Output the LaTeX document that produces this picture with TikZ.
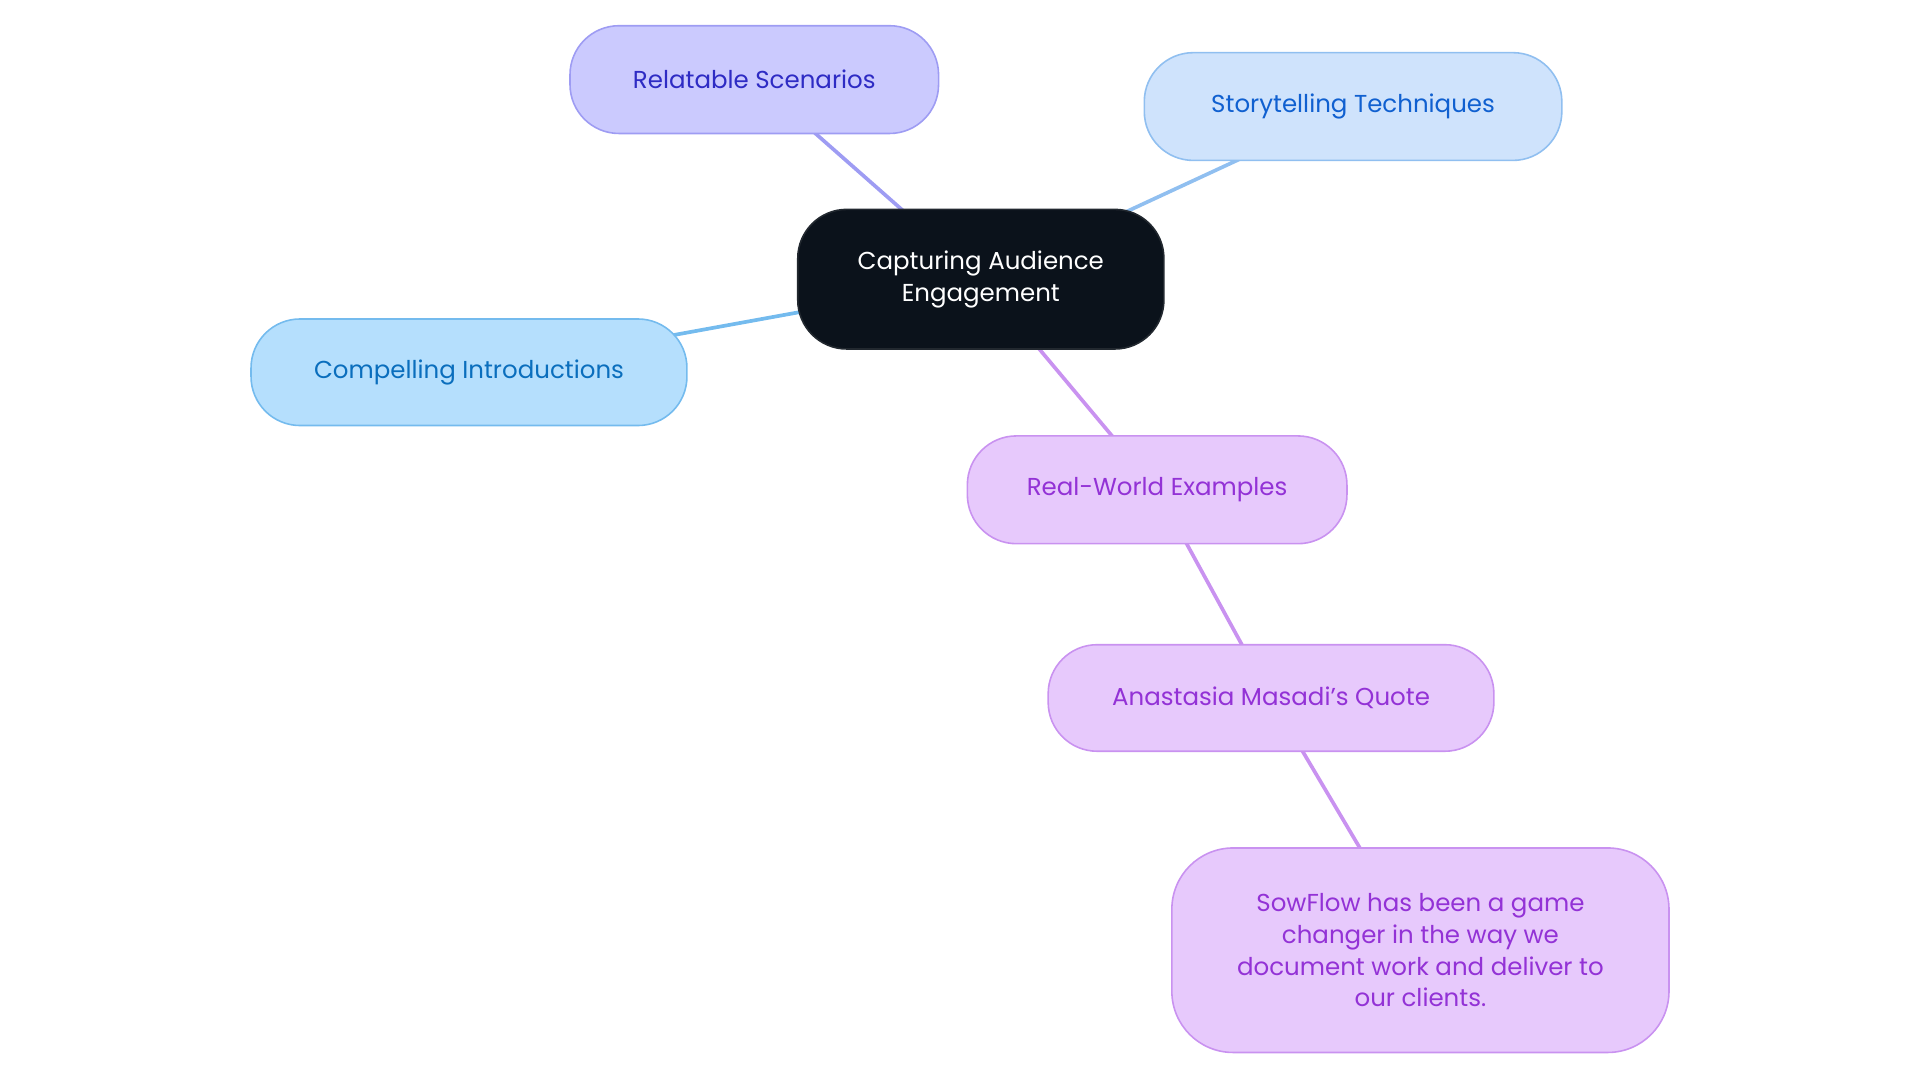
\documentclass[tikz,border=0pt]{standalone}
\usepackage{fontspec}
\setmainfont{Poppins}
\usetikzlibrary{backgrounds}
\definecolor{cblack}{HTML}{0B121B}
\definecolor{pf}{HTML}{CBCAFE}\definecolor{pb}{HTML}{9E9CF3}\definecolor{pt}{HTML}{2E2BC4}
\definecolor{sf}{HTML}{CFE3FC}\definecolor{sb}{HTML}{90BFF0}\definecolor{st}{HTML}{1060D0}
\definecolor{cf}{HTML}{B5DFFD}\definecolor{cb}{HTML}{74BBEE}\definecolor{ct}{HTML}{0A6EBD}
\definecolor{vf}{HTML}{E7C9FC}\definecolor{vb}{HTML}{C992F0}\definecolor{vt}{HTML}{9332D6}
\begin{document}
\begin{tikzpicture}[x=1pt,y=-1pt,
  box/.style={rounded corners=40pt,line width=1.3pt,align=center,inner sep=0pt,
    font=\fontsize{20}{26}\selectfont},
  edge/.style={line width=3pt}]
\useasboundingbox (0,0) rectangle (1568,884);
\node[box,fill=cblack,draw=cblack!80!gray,text=white,minimum width=299pt,minimum height=114pt] (c) at (801,228) {Capturing Audience\\Engagement};
\node[box,fill=pf,draw=pb,text=pt,minimum width=301pt,minimum height=88pt] (r) at (616,65) {Relatable Scenarios};
\node[box,fill=sf,draw=sb,text=st,minimum width=341pt,minimum height=88pt] (s) at (1105,87) {Storytelling Techniques};
\node[box,fill=cf,draw=cb,text=ct,minimum width=356pt,minimum height=87pt] (i) at (383,304) {Compelling Introductions};
\node[box,fill=vf,draw=vb,text=vt,minimum width=310pt,minimum height=88pt] (w) at (945,400) {Real-World Examples};
\node[box,fill=vf,draw=vb,text=vt,minimum width=364pt,minimum height=87pt] (a) at (1038,570) {Anastasia Masadi's Quote};
\node[box,fill=vf,draw=vb,text=vt,minimum width=406pt,minimum height=167pt,rounded corners=50pt] (q) at (1160,776) {SowFlow has been a game\\changer in the way we\\document work and deliver to\\our clients.};
\begin{scope}[on background layer]
\draw[edge,pb] (c.center) -- (r.center);
\draw[edge,sb] (c.center) -- (s.center);
\draw[edge,cb] (c.center) -- (i.center);
\draw[edge,vb] (c.center) -- (w.center);
\draw[edge,vb] (w.center) -- (a.center);
\draw[edge,vb] (a.center) -- (q.center);
\end{scope}
\end{tikzpicture}
\end{document}
